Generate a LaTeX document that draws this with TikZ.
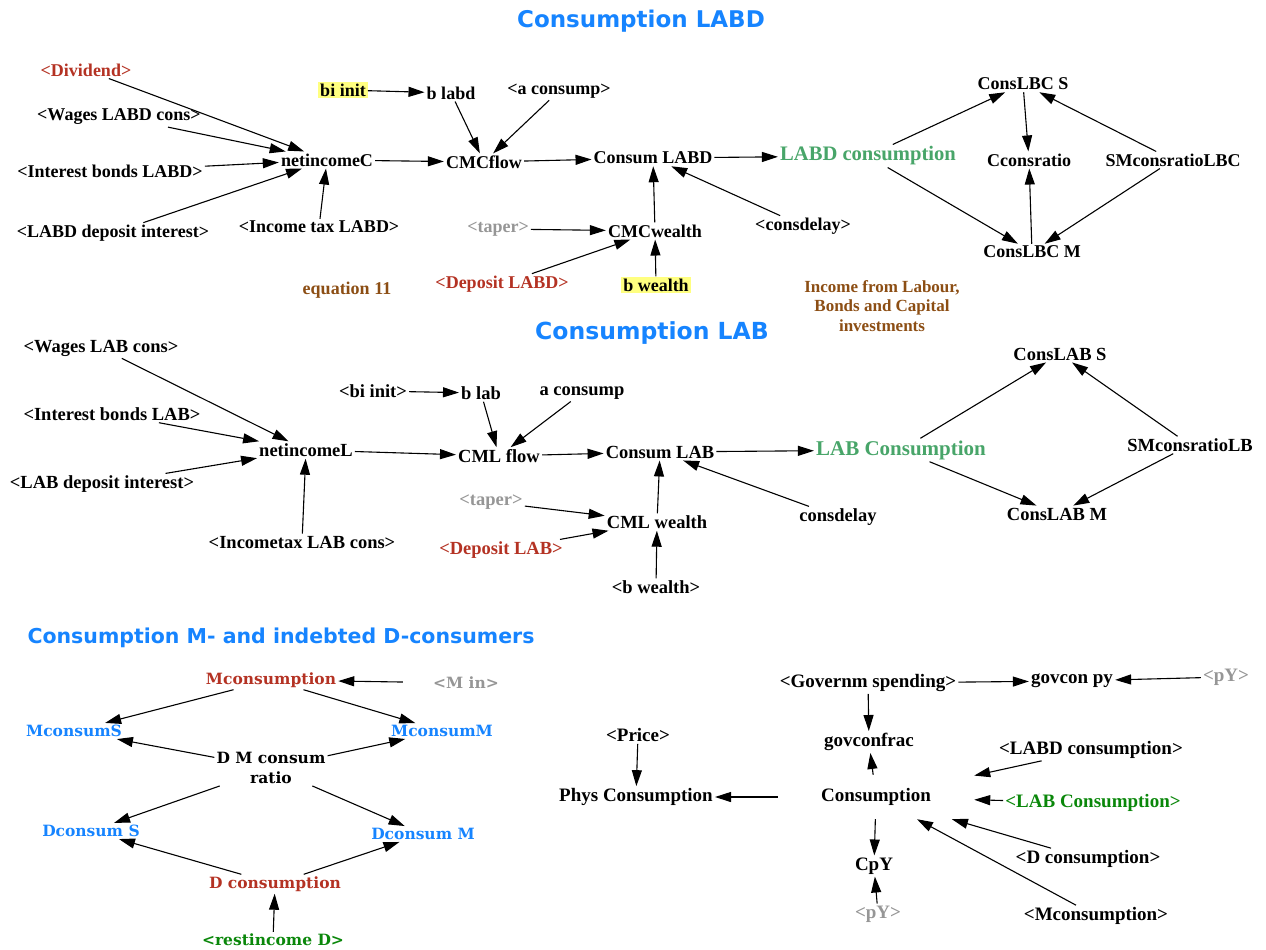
\documentclass[tikz,border=0pt]{standalone}
\usepackage{fontspec}
\setmainfont{Liberation Serif}
\newfontfamily\ttlfont{DejaVu Sans}
\newfontfamily\dvserif{DejaVu Serif}
\usetikzlibrary{arrows.meta}
\definecolor{ttlblue}{RGB}{22,132,255}
\definecolor{nodeblue}{RGB}{22,132,255}
\definecolor{vred}{RGB}{180,50,35}
\definecolor{vgreen}{RGB}{72,165,105}
\definecolor{dgreen}{RGB}{10,135,10}
\definecolor{vgray}{RGB}{150,150,150}
\definecolor{vbrown}{RGB}{140,78,20}
\definecolor{hlyellow}{RGB}{255,255,128}
\tikzset{
  var/.style={font=\bfseries\fontsize{18}{20}\selectfont, inner sep=2pt},
  varm/.style={font=\bfseries\fontsize{18.5}{20}\selectfont, inner sep=2pt},
  varb/.style={font=\dvserif\bfseries\fontsize{15.5}{20}\selectfont, inner sep=2pt, align=center},
  varc/.style={font=\bfseries\fontsize{19}{21}\selectfont, inner sep=2pt},
  hl/.style={fill=hlyellow, inner sep=2pt},
  ttl/.style={font=\ttlfont\bfseries\fontsize{23}{26}\selectfont, text=ttlblue},
  note/.style={font=\bfseries\fontsize{17}{19.5}\selectfont, text=vbrown, align=center},
  arr/.style={-{Triangle[length=16pt,width=10pt]}, line width=1.1pt},
}
\begin{document}
\begin{tikzpicture}[x=1pt,y=-1pt]
\useasboundingbox (0,0) rectangle (1266,950);
% ===== Section 1: Consumption LABD =====
\node[ttl] (t1) at (641,21) {Consumption LABD};
\node[var,text=vred] (div) at (86,70) {<Dividend>};
\node[var] (wlabd) at (119,117) {<Wages LABD cons>};
\node[var] (iblabd) at (110,171) {<Interest bonds LABD>};
\node[var] (ldi) at (113,233) {<LABD deposit interest>};
\node[var] (nic) at (327,160) {netincomeC};
\node[var] (itl) at (319,227) {<Income tax LABD>};
\node[var,hl] (bii) at (343,90) {bi init};
\node[var] (blabd) at (451,93) {b labd};
\node[var] (acons1) at (559,91) {<a consump>};
\node[var] (cmcf) at (484,162) {CMCflow};
\node[var] (clabd) at (653,158) {Consum LABD};
\node[font=\bfseries\fontsize{20.6}{22}\selectfont, text=vgreen, inner sep=2pt] (labdc) at (868,156) {LABD consumption};
\node[var,text=vgray] (tap1) at (498,229) {<taper>};
\node[var] (cmcw) at (655,231) {CMCwealth};
\node[var] (cdel1) at (803,226) {<consdelay>};
\node[var,text=vbrown] (eq11) at (347,290) {equation 11};
\node[var,text=vred] (deplabd) at (502,284) {<Deposit LABD>};
\node[var,hl] (bw1) at (656,285) {b wealth};
\node[var] (clbcs) at (1023,84) {ConsLBC S};
\node[var] (ccr) at (1029,160) {Cconsratio};
\node[var] (smlbc) at (1173,160) {SMconsratioLBC};
\node[var] (clbcm) at (1032,252) {ConsLBC M};
\node[note] (inc) at (882,306) {Income from Labour,\\Bonds and Capital\\investments};
\draw[arr] (div) -- (nic);
\draw[arr] (wlabd) -- (nic);
\draw[arr] (iblabd) -- (nic);
\draw[arr] (ldi) -- (nic);
\draw[arr] (itl) -- (nic);
\draw[arr] (nic) -- (cmcf);
\draw[arr] (bii) -- (blabd);
\draw[arr] (blabd) -- (cmcf);
\draw[arr] (acons1) -- (cmcf);
\draw[arr] (cmcf) -- (clabd);
\draw[arr] (clabd) -- (labdc);
\draw[arr] (cmcw) -- (clabd);
\draw[arr] (cdel1) -- (clabd);
\draw[arr] (tap1) -- (cmcw);
\draw[arr] (deplabd) -- (cmcw);
\draw[arr] (bw1) -- (cmcw);
\draw[arr] (labdc) -- (clbcs);
\draw[arr] (labdc) -- (clbcm);
\draw[arr] (clbcs) -- (ccr);
\draw[arr] (clbcm) -- (ccr);
\draw[arr] (smlbc) -- (clbcs);
\draw[arr] (smlbc) -- (clbcm);
% ===== Section 2: Consumption LAB =====
\node[ttl,font=\ttlfont\bfseries\fontsize{23.5}{26}\selectfont] (t2) at (652,333) {Consumption LAB};
\node[varm] (wlab) at (101,348) {<Wages LAB cons>};
\node[varm] (bii2) at (373,391) {<bi init>};
\node[varm] (blab) at (481,393) {b lab};
\node[varm] (acons2) at (582,393) {a consump};
\node[varm] (iblab) at (112,414) {<Interest bonds LAB>};
\node[varm] (nil) at (306,450) {netincomeL};
\node[varm] (cmlf) at (499,456) {CML flow};
\node[varm] (clab) at (660,452) {Consum LAB};
\node[font=\bfseries\fontsize{21}{23}\selectfont, text=vgreen, inner sep=2pt] (labc) at (901,450) {LAB Consumption};
\node[varm] (ldi2) at (102,484) {<LAB deposit interest>};
\node[varm,text=vgray] (tap2) at (491,502) {<taper>};
\node[varm] (cmlw) at (657,522) {CML wealth};
\node[varm] (cdel2) at (838,517) {consdelay};
\node[varm] (itlab) at (302,542) {<Incometax LAB cons>};
\node[varm,text=vred] (deplab) at (501,550) {<Deposit LAB>};
\node[varm] (bw2) at (656,587) {<b wealth>};
\node[varm] (clabs) at (1060,354) {ConsLAB S};
\node[varm] (smlb) at (1190,445) {SMconsratioLB};
\node[varm] (clabm) at (1057,514) {ConsLAB M};
\draw[arr] (wlab) -- (nil);
\draw[arr] (iblab) -- (nil);
\draw[arr] (ldi2) -- (nil);
\draw[arr] (itlab) -- (nil);
\draw[arr] (nil) -- (cmlf);
\draw[arr] (bii2) -- (blab);
\draw[arr] (blab) -- (cmlf);
\draw[arr] (acons2) -- (cmlf);
\draw[arr] (cmlf) -- (clab);
\draw[arr] (clab) -- (labc);
\draw[arr] (cmlw) -- (clab);
\draw[arr] (cdel2) -- (clab);
\draw[arr] (tap2) -- (cmlw);
\draw[arr] (deplab) -- (cmlw);
\draw[arr] (bw2) -- (cmlw);
\draw[arr] (labc) -- (clabs);
\draw[arr] (labc) -- (clabm);
\draw[arr] (smlb) -- (clabs);
\draw[arr] (smlb) -- (clabm);
% ===== Section 3: M- and D-consumers =====
\node[ttl,font=\ttlfont\bfseries\fontsize{20.5}{23}\selectfont] (t3) at (281,638) {Consumption M- and indebted D-consumers};
\node[varb,text=vred] (mcons) at (271,680) {Mconsumption};
\node[varb,text=vgray] (min) at (466,683) {<M in>};
\node[varb,text=nodeblue] (mcs) at (74,731) {MconsumS};
\node[varb,text=nodeblue] (mcm) at (442,731) {MconsumM};
\node[varb] (dmr) at (271,768) {D M consum\\ratio};
\node[varb,text=nodeblue] (dcs) at (91,831) {Dconsum S};
\node[varb,text=nodeblue] (dcm) at (423,834) {Dconsum M};
\node[varb,text=vred] (dcons) at (275,884) {D consumption};
\node[varb,text=dgreen] (rest) at (273,940) {<restincome D>};
\draw[arr,shorten <=28pt] (min) -- (mcons);
\draw[arr] (mcons) -- (mcs);
\draw[arr] (mcons) -- (mcm);
\draw[arr] (dmr) -- (mcs);
\draw[arr] (dmr) -- (mcm);
\draw[arr] (dmr) -- (dcs);
\draw[arr] (dmr) -- (dcm);
\draw[arr] (dcons) -- (dcs);
\draw[arr] (dcons) -- (dcm);
\draw[arr] (rest) -- (dcons);
% ===== Section 4: total consumption =====
\node[varc] (gov) at (868,683) {<Governm spending>};
\node[varc] (gpy) at (1072,681) {govcon py};
\node[varc,text=vgray] (py1) at (1226,677) {<pY>};
\node[varc] (price) at (638,735) {<Price>};
\node[varc] (gfrac) at (869,742) {govconfrac};
\node[varc] (labdr) at (1091,750) {<LABD consumption>};
\node[varc] (phys) at (636,797) {Phys Consumption};
\node[varc, minimum width=196pt, minimum height=44pt] (cons) at (876,797) {Consumption};
\node[varc,text=dgreen] (labr) at (1093,803) {<LAB Consumption>};
\node[varc] (dr) at (1088,859) {<D consumption>};
\node[varc] (cpy) at (874,866) {CpY};
\node[varc,text=vgray] (py2) at (878,914) {<pY>};
\node[varc] (mr) at (1096,916) {<Mconsumption>};
\draw[arr] (gov) -- (gpy);
\draw[arr] (py1) -- (gpy);
\draw[arr] (gov) -- (gfrac);
\draw[arr] (cons) -- (gfrac);
\draw[arr] (price) -- (phys);
\draw[arr] (cons) -- (phys);
\draw[arr] (cons) -- (cpy);
\draw[arr] (py2) -- (cpy);
\draw[arr] (labdr) -- (cons);
\draw[arr] (labr) -- (cons);
\draw[arr] (dr) -- (cons);
\draw[arr] (mr) -- (cons);
\end{tikzpicture}
\end{document}
